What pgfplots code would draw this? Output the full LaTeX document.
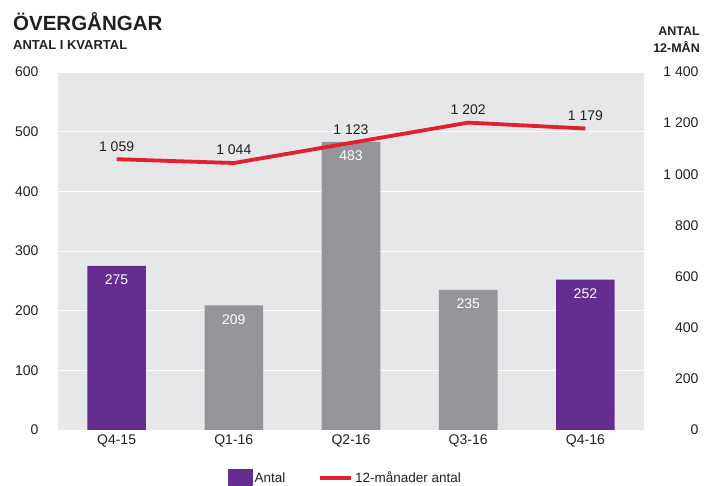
\documentclass[border=0pt]{standalone}
\usepackage{fontspec}
\setmainfont{Liberation Sans}
\usepackage{pgfplots}
\pgfplotsset{compat=1.18}

\definecolor{lila}{HTML}{662D91}
\definecolor{gra}{HTML}{939598}
\definecolor{bakgrund}{HTML}{E6E7E8}
\definecolor{rod}{HTML}{E3202E}
\definecolor{text}{HTML}{231F20}

\pgfplotsset{
  gemensam/.style={
    at={(0pt,0pt)}, anchor=south west,
    scale only axis, width=586pt, height=358pt,
    xmin=-0.5, xmax=4.5,
    axis line style={draw=none},
    major tick length=0pt,
    /pgf/number format/assume math mode=true,
    /pgf/number format/1000 sep={\ },
    ticklabel style={font=\fontsize{14}{16}\selectfont, text=text},
  },
}

\begin{document}
\begin{tikzpicture}
\useasboundingbox (-58pt,-56pt) rectangle (646pt,430pt);

\begin{axis}[
  gemensam,
  ymin=0, ymax=600,
  xtick={0,...,4},
  xticklabels={Q4-15,Q1-16,Q2-16,Q3-16,Q4-16},
  xticklabel style={yshift=-1pt},
  ytick={0,100,...,600},
  yticklabel style={anchor=east, xshift=-16pt},
  ymajorgrids,
  grid style={white, line width=0.8pt},
  axis background/.style={fill=bakgrund},
  ybar, bar width=0.5, bar shift=0pt,
  nodes near coords,
  every node near coord/.append style={text=white, anchor=center, yshift=-14pt,
    font=\fontsize{14}{16}\selectfont},
]
\addplot[draw=none, fill=lila] coordinates {(0,275) (4,252)};
\addplot[draw=none, fill=gra] coordinates {(1,209) (2,483) (3,235)};
\end{axis}

\begin{axis}[
  gemensam,
  ymin=0, ymax=1400,
  axis x line=none,
  axis y line*=right,
  ytick={0,200,...,1400},
  yticklabel style={anchor=east, xshift=58pt},
  legend style={draw=none, fill=none, at={(0.285,-0.134)}, anchor=west,
    legend columns=-1, font=\fontsize{13.5}{15}\selectfont, text=text,
    /tikz/every even column/.append style={column sep=31pt}},
]
\addlegendimage{legend image code/.code={\fill[lila] (0pt,-9pt) rectangle (24pt,9pt);}}
\addlegendentry{Antal}
\addplot[rod, line width=3.8pt, mark=none,
  nodes near coords,
  every node near coord/.append style={text=text, anchor=center, yshift=13pt,
    font=\fontsize{14}{16}\selectfont},
  legend image code/.code={\draw[rod, line width=3.8pt] (0pt,0pt) -- (31pt,0pt);},
] coordinates {(0,1059) (1,1044) (2,1123) (3,1202) (4,1179)};
\addlegendentry{12-månader antal}
\end{axis}

\node[anchor=base west, inner sep=0pt, text=text, font=\bfseries\fontsize{20.5}{24}\selectfont]
  at (-45pt,399pt) {ÖVERGÅNGAR};
\node[anchor=base west, inner sep=0pt, text=text, font=\bfseries\fontsize{13}{15}\selectfont]
  at (-45pt,380pt) {ANTAL I KVARTAL};
\node[anchor=base east, inner sep=0pt, text=text, font=\bfseries\fontsize{12.5}{14}\selectfont]
  at (642pt,394pt) {ANTAL};
\node[anchor=base east, inner sep=0pt, text=text, font=\bfseries\fontsize{12.5}{14}\selectfont]
  at (642pt,377pt) {12-MÅN};
\end{tikzpicture}
\end{document}
